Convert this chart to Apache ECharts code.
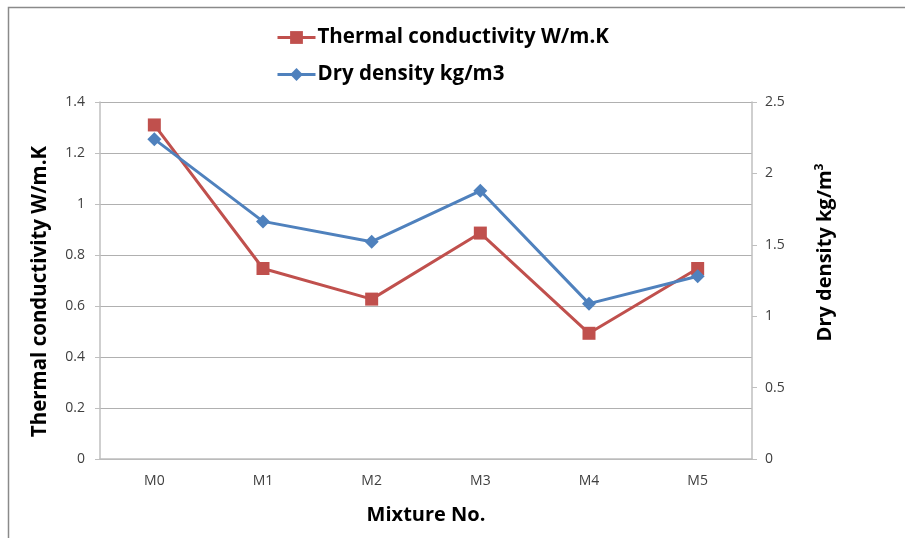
<!DOCTYPE html>
<html>
<head>
<meta charset="utf-8">
<script src="https://cdn.jsdelivr.net/npm/echarts@6/dist/echarts.min.js"></script>
<style>html,body{margin:0;padding:0;background:#fff}#c{width:905px;height:538px}</style>
</head>
<body>
<div id="c"></div>
<script>
const categories = ['M0', 'M1', 'M2', 'M3', 'M4', 'M5'];
const thermalConductivity = [1.31, 0.747, 0.627, 0.886, 0.493, 0.747];
const dryDensity = [2.24, 1.664, 1.522, 1.878, 1.088, 1.28];
const leftTicks = { min: 0, max: 1.4, interval: 0.2 };
const rightTicks = { min: 0, max: 2.5, interval: 0.5 };

const FONT = '"Open Sans", Lato, sans-serif';
const chart = echarts.init(document.getElementById('c'), null, { renderer: 'canvas' });
chart.setOption({
  animation: false,
  backgroundColor: '#ffffff',
  graphic: [{
    type: 'polyline',
    shape: { points: [[8.5, 538], [8.5, 7.5], [905, 7.5]] },
    style: { stroke: '#8a8a8a', lineWidth: 1.5, fill: null }
  }],
  grid: { left: 100, right: 153, top: 102, bottom: 79 },
  legend: {
    orient: 'vertical',
    left: 271,
    top: 22,
    itemGap: 16,
    itemWidth: 38,
    itemHeight: 16,
    lineStyle: { width: 3 },
    textStyle: { fontFamily: FONT, fontSize: 20.5, fontWeight: 'bold', color: '#000', padding: [0, 0, 0, -3] },
    data: ['Thermal conductivity W/m.K', 'Dry density kg/m3']
  },
  xAxis: {
    type: 'category',
    data: categories,
    boundaryGap: true,
    axisLine: { lineStyle: { color: '#bfbfbf', width: 1.5 } },
    axisTick: { show: false },
    axisLabel: { color: '#404040', fontFamily: FONT, fontSize: 14, margin: 15 },
    name: 'Mixture No.',
    nameLocation: 'middle',
    nameGap: 46,
    nameTextStyle: { fontFamily: FONT, fontSize: 20, fontWeight: 'bold', color: '#000' }
  },
  yAxis: [{
    type: 'value',
    min: leftTicks.min, max: leftTicks.max, interval: leftTicks.interval,
    position: 'left',
    axisLine: { show: true, lineStyle: { color: '#bfbfbf', width: 1.5 } },
    axisTick: { show: true, length: 5, lineStyle: { color: '#bfbfbf' } },
    axisLabel: { color: '#404040', fontFamily: FONT, fontSize: 14, margin: 15 },
    splitLine: { show: true, lineStyle: { color: '#b0b0b0', width: 1.2 } },
    name: 'Thermal conductivity W/m.K',
    nameLocation: 'middle',
    nameGap: 49,
    nameRotate: 90,
    nameTextStyle: { fontFamily: FONT, fontSize: 20.5, fontWeight: 'bold', color: '#000', padding: [0, 22, 0, 0] }
  }, {
    type: 'value',
    min: rightTicks.min, max: rightTicks.max, interval: rightTicks.interval,
    position: 'right',
    axisLine: { show: true, lineStyle: { color: '#bfbfbf', width: 1.5 } },
    axisTick: { show: true, length: 5, lineStyle: { color: '#bfbfbf' } },
    axisLabel: { color: '#404040', fontFamily: FONT, fontSize: 14, margin: 13 },
    splitLine: { show: false },
    name: 'Dry density kg/m{sup|3}',
    nameLocation: 'middle',
    nameGap: 62,
    nameRotate: 90,
    nameTextStyle: {
      fontFamily: FONT, fontSize: 20, fontWeight: 'bold', color: '#000', padding: [0, 0, 0, 56],
      rich: { sup: { fontFamily: FONT, fontSize: 12, fontWeight: 'bold', color: '#000', verticalAlign: 'top', padding: [0, 0, 10, 0] } }
    }
  }],
  series: [{
    name: 'Thermal conductivity W/m.K',
    type: 'line',
    yAxisIndex: 0,
    data: thermalConductivity,
    symbol: 'rect',
    symbolSize: 13,
    itemStyle: { color: '#C0504D' },
    lineStyle: { color: '#C0504D', width: 3 }
  }, {
    name: 'Dry density kg/m3',
    type: 'line',
    yAxisIndex: 1,
    data: dryDensity,
    symbol: 'diamond',
    symbolSize: 14,
    itemStyle: { color: '#4F81BD' },
    lineStyle: { color: '#4F81BD', width: 3 }
  }]
});
</script>
</body>
</html>
